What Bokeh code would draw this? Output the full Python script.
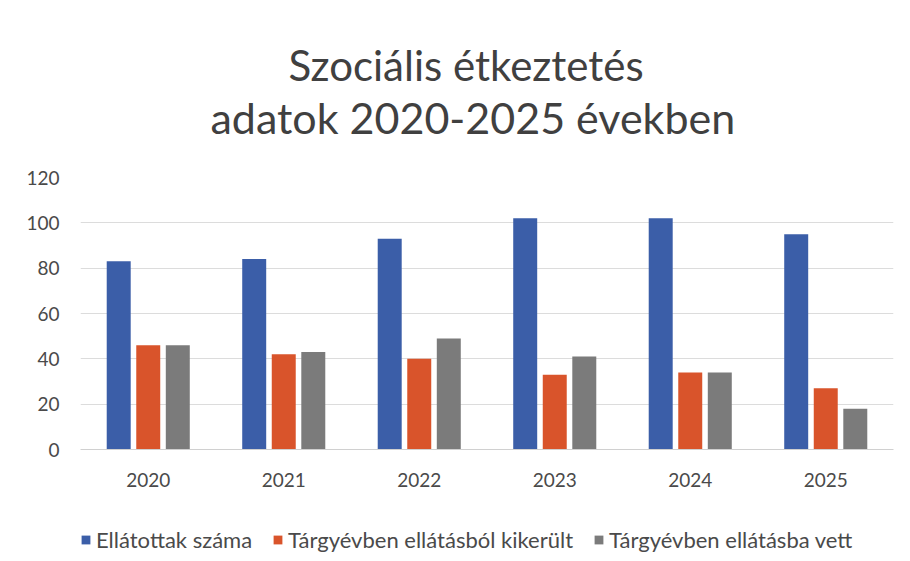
from bokeh.plotting import figure
from bokeh.models import ColumnDataSource, FactorRange, Range1d, Title, Legend, LegendItem, FixedTicker
from bokeh.transform import dodge
from bokeh.layouts import column
from bokeh.embed import file_html
from bokeh.resources import INLINE

years = ["2020", "2021", "2022", "2023", "2024", "2025"]
ellatottak = [83, 84, 93, 102, 102, 95]
kikerult = [46, 42, 40, 33, 34, 27]
bevett = [46, 43, 49, 41, 34, 18]
series_names = ["Ellátottak száma", "Tárgyévben ellátásból kikerült", "Tárgyévben ellátásba vett"]
title_lines = ["Szociális étkeztetés", "adatok 2020-2025 években"]
y_ticks = [0, 20, 40, 60, 80, 100, 120]

colors = ["#3b5ea8", "#d9542b", "#7b7b7b"]
FONT = "Lato"
TEXT = "#404040"
TICK = "#4a4a4a"

src = ColumnDataSource(dict(year=years, a=ellatottak, b=kikerult, c=bevett))
xr = FactorRange(*years, range_padding=0)

p = figure(x_range=xr, y_range=Range1d(0, 120),
           width=900, height=505, output_backend="svg", toolbar_location=None,
           min_border_left=80, min_border_right=7, min_border_top=177, min_border_bottom=56)
p.outline_line_color = None

offsets = [-0.218, 0.0, 0.218]
cols = ["a", "b", "c"]
for col, off, c in zip(cols, offsets, colors):
    p.vbar(x=dodge("year", off, range=xr), top=col, width=0.177, source=src,
           fill_color=c, line_color=None)

p.xgrid.grid_line_color = None
p.ygrid.grid_line_color = "#dcdcdc"
p.yaxis.ticker = FixedTicker(ticks=y_ticks)

for ax in (p.xaxis, p.yaxis):
    ax.major_tick_line_color = None
    ax.minor_tick_line_color = None
    ax.major_tick_out = 0
    ax.major_tick_in = 0
    ax.major_label_text_font = FONT
    ax.major_label_text_font_size = "19px"
    ax.major_label_text_color = TICK
p.yaxis.axis_line_color = None
p.xaxis.axis_line_color = "#d0d0d0"
p.xaxis.major_label_standoff = 23
p.yaxis.major_label_standoff = 21

# titles: spacer closest to frame, then line 2, then line 1
spacer = Title(text=" ", text_font_size="1px", standoff=32)
t2 = Title(text=title_lines[1], align="left", offset=130, text_font=FONT, text_font_size="43px",
           text_font_style="normal", text_color=TEXT, standoff=0)
t1 = Title(text=title_lines[0], align="left", offset=208, text_font=FONT, text_font_size="42px",
           text_font_style="normal", text_color=TEXT, standoff=0)
p.add_layout(spacer, "above")
p.add_layout(t2, "above")
p.add_layout(t1, "above")

# legend strip: hidden renderers (legend click_policy "none" still draws their swatches)
lg = figure(width=900, height=53, output_backend="svg", toolbar_location=None,
            x_range=xr, y_range=Range1d(0, 120),
            x_axis_location=None, y_axis_location=None, min_border=0,
            min_border_left=80, min_border_right=7)
lg.outline_line_color = None
lg.grid.visible = False
lg_renderers = [lg.vbar(x=dodge("year", off, range=xr), top=col, width=0.177, source=src,
                        fill_color=c, line_color=None, visible=False)
                for col, off, c in zip(cols, offsets, colors)]
legend = Legend(items=[LegendItem(label=n, renderers=[r]) for n, r in zip(series_names, lg_renderers)],
                orientation="horizontal", location=(0, 5), border_line_color=None,
                background_fill_alpha=0, glyph_width=11, glyph_height=11, label_standoff=5,
                spacing=20, padding=0, margin=0, label_text_font=FONT,
                label_text_font_size="22px", label_text_color=TICK)
lg.add_layout(legend, "center")

layout = column(p, lg, spacing=0)
open("out.html", "w").write(file_html(layout, INLINE))
